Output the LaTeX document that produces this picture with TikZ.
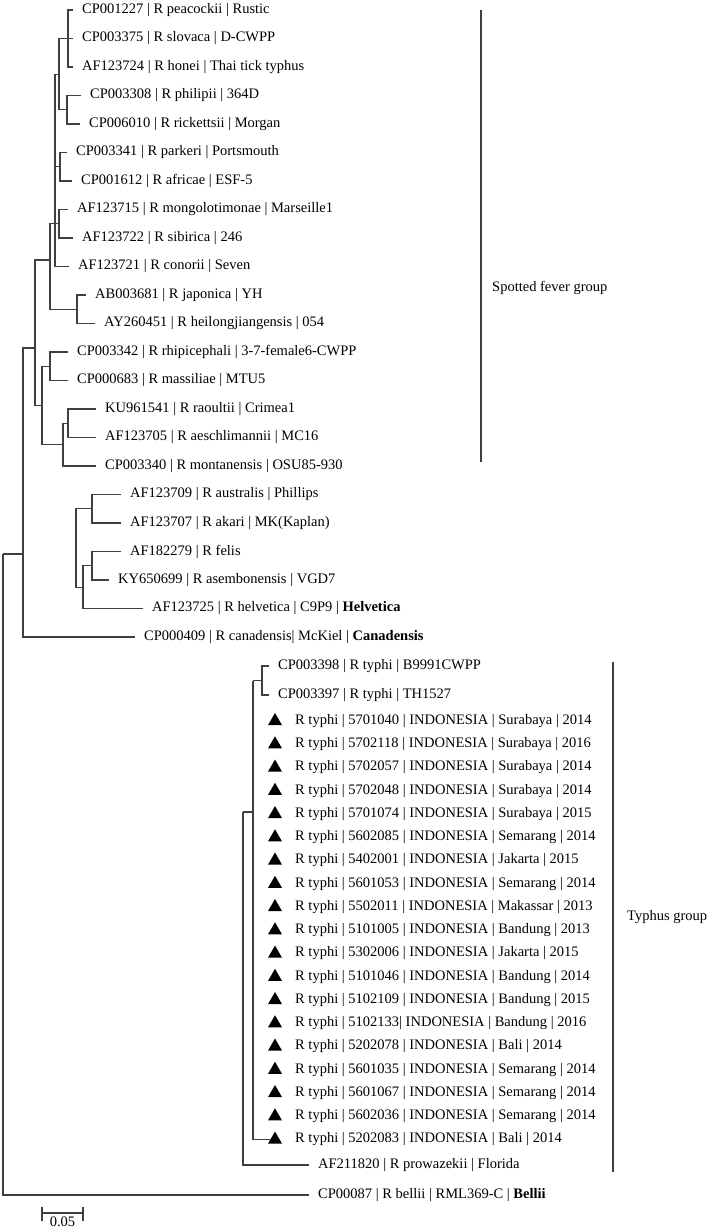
\documentclass[tikz,border=0pt]{standalone}
\usepackage{fontspec}
\setmainfont{Liberation Serif}
\usetikzlibrary{shapes.geometric}

\begin{document}
\begin{tikzpicture}[x=1pt, y=-1pt, font=\fontsize{14.5pt}{17pt}\selectfont,
  branch/.style={line width=1.1pt, draw=black!75},
  taxon/.style={anchor=west, inner xsep=9pt, inner ysep=1pt},
  isolate/.style={regular polygon, regular polygon sides=3, fill=black, inner sep=0pt, minimum size=16pt}]
\useasboundingbox (0,0) rectangle (709,1229);

% Spotted fever group leaves
\node[taxon] (peacockii) at (73,10) {CP001227 | R peacockii | Rustic};
\node[taxon] (slovaca) at (73,38.5) {CP003375 | R slovaca | D-CWPP};
\node[taxon] (honei) at (73,67) {AF123724 | R honei | Thai tick typhus};
\node[taxon] (philipii) at (81,95.5) {CP003308 | R philipii | 364D};
\node[taxon] (rickettsii) at (80,124) {CP006010 | R rickettsii | Morgan};
\node[taxon] (parkeri) at (67,152.5) {CP003341 | R parkeri | Portsmouth};
\node[taxon] (africae) at (72,181) {CP001612 | R africae | ESF-5};
\node[taxon] (mongolotimonae) at (68,209.5) {AF123715 | R mongolotimonae | Marseille1};
\node[taxon] (sibirica) at (73,238) {AF123722 | R sibirica | 246};
\node[taxon] (conorii) at (69,266.5) {AF123721 | R conorii | Seven};
\node[taxon] (japonica) at (86,295) {AB003681 | R japonica | YH};
\node[taxon] (heilongjiangensis) at (95,323.5) {AY260451 | R heilongjiangensis | 054};
\node[taxon] (rhipicephali) at (68,352) {CP003342 | R rhipicephali | 3-7-female6-CWPP};
\node[taxon] (massiliae) at (68,380.5) {CP000683 | R massiliae | MTU5};
\node[taxon] (raoultii) at (96,409) {KU961541 | R raoultii | Crimea1};
\node[taxon] (aeschlimannii) at (96,437.5) {AF123705 | R aeschlimannii | MC16};
\node[taxon] (montanensis) at (96,466) {CP003340 | R montanensis | OSU85-930};

% Other leaves
\node[taxon] (australis) at (121,494.5) {AF123709 | R australis | Phillips};
\node[taxon] (akari) at (121,523) {AF123707 | R akari | MK(Kaplan)};
\node[taxon] (felis) at (121,551.5) {AF182279 | R felis};
\node[taxon] (asembonensis) at (109,580) {KY650699 | R asembonensis | VGD7};
\node[taxon] (helvetica) at (143,608.5) {AF123725 | R helvetica | C9P9 | \textbf{Helvetica}};
\node[taxon] (canadensis) at (135,637) {CP000409 | R canadensis| McKiel | \textbf{Canadensis}};

% Typhus group leaves
\node[taxon] (typhiB) at (269,666) {CP003398 | R typhi | B9991CWPP};
\node[taxon] (typhiTH) at (269,695) {CP003397 | R typhi | TH1527};
\node[isolate] (m5701040) at (275,721) {};
\node[taxon] (s5701040) at (286,721) {R typhi | 5701040 | INDONESIA | Surabaya | 2014};
\node[isolate] (m5702118) at (275,744.25) {};
\node[taxon] (s5702118) at (286,744.25) {R typhi | 5702118 | INDONESIA | Surabaya | 2016};
\node[isolate] (m5702057) at (275,767.5) {};
\node[taxon] (s5702057) at (286,767.5) {R typhi | 5702057 | INDONESIA | Surabaya | 2014};
\node[isolate] (m5702048) at (275,790.75) {};
\node[taxon] (s5702048) at (286,790.75) {R typhi | 5702048 | INDONESIA | Surabaya | 2014};
\node[isolate] (m5701074) at (275,814) {};
\node[taxon] (s5701074) at (286,814) {R typhi | 5701074 | INDONESIA | Surabaya | 2015};
\node[isolate] (m5602085) at (275,837.25) {};
\node[taxon] (s5602085) at (286,837.25) {R typhi | 5602085 | INDONESIA | Semarang | 2014};
\node[isolate] (m5402001) at (275,860.5) {};
\node[taxon] (s5402001) at (286,860.5) {R typhi | 5402001 | INDONESIA | Jakarta | 2015};
\node[isolate] (m5601053) at (275,883.75) {};
\node[taxon] (s5601053) at (286,883.75) {R typhi | 5601053 | INDONESIA | Semarang | 2014};
\node[isolate] (m5502011) at (275,907) {};
\node[taxon] (s5502011) at (286,907) {R typhi | 5502011 | INDONESIA | Makassar | 2013};
\node[isolate] (m5101005) at (275,930.25) {};
\node[taxon] (s5101005) at (286,930.25) {R typhi | 5101005 | INDONESIA | Bandung | 2013};
\node[isolate] (m5302006) at (275,953.5) {};
\node[taxon] (s5302006) at (286,953.5) {R typhi | 5302006 | INDONESIA | Jakarta | 2015};
\node[isolate] (m5101046) at (275,976.75) {};
\node[taxon] (s5101046) at (286,976.75) {R typhi | 5101046 | INDONESIA | Bandung | 2014};
\node[isolate] (m5102109) at (275,1000) {};
\node[taxon] (s5102109) at (286,1000) {R typhi | 5102109 | INDONESIA | Bandung | 2015};
\node[isolate] (m5102133) at (275,1023.25) {};
\node[taxon] (s5102133) at (286,1023.25) {R typhi | 5102133| INDONESIA | Bandung | 2016};
\node[isolate] (m5202078) at (275,1046.5) {};
\node[taxon] (s5202078) at (286,1046.5) {R typhi | 5202078 | INDONESIA | Bali | 2014};
\node[isolate] (m5601035) at (275,1069.75) {};
\node[taxon] (s5601035) at (286,1069.75) {R typhi | 5601035 | INDONESIA | Semarang | 2014};
\node[isolate] (m5601067) at (275,1093) {};
\node[taxon] (s5601067) at (286,1093) {R typhi | 5601067 | INDONESIA | Semarang | 2014};
\node[isolate] (m5602036) at (275,1116.25) {};
\node[taxon] (s5602036) at (286,1116.25) {R typhi | 5602036 | INDONESIA | Semarang | 2014};
\node[isolate] (m5202083) at (275,1139.5) {};
\node[taxon] (s5202083) at (286,1139.5) {R typhi | 5202083 | INDONESIA | Bali | 2014};
\node[taxon] (prowazekii) at (309,1165) {AF211820 | R prowazekii | Florida};
\node[taxon] (bellii) at (309,1195) {CP00087 | R bellii | RML369-C | \textbf{Bellii}};

% Internal nodes
\coordinate (nA) at (68,38.5);
\coordinate (nB) at (67,109.75);
\coordinate (nAB) at (59,74.1);
\coordinate (nC) at (60,166.75);
\coordinate (nD) at (59,223.75);
\coordinate (nSub) at (55,223.75);
\coordinate (nJap) at (77,309.25);
\coordinate (nUpper) at (50,260);
\coordinate (nF) at (50,366.25);
\coordinate (nG) at (68,423.25);
\coordinate (nH) at (63,444.6);
\coordinate (nFH) at (42,405.4);
\coordinate (nSFG) at (35,348);
\coordinate (nI) at (92,508.75);
\coordinate (nJ) at (92,565.75);
\coordinate (nK) at (83,587.1);
\coordinate (nIK) at (76,547.9);
\coordinate (nCan) at (23,554);
\coordinate (root) at (3,554);
\coordinate (nL) at (262,680.5);
\coordinate (nTy) at (253,680.5);
\coordinate (nM) at (243,812);

% Branches
\draw[branch] (nA) |- (peacockii.west) (nA) -- (slovaca.west) (nA) |- (honei.west);
\draw[branch] (nB) |- (philipii.west) (nB) |- (rickettsii.west);
\draw[branch] (nAB) |- (nA) (nAB) |- (nB);
\draw[branch] (nC) |- (parkeri.west) (nC) |- (africae.west);
\draw[branch] (nD) |- (mongolotimonae.west) (nD) |- (sibirica.west);
\draw[branch] (nSub) |- (nAB) (nSub) |- (nC) (nSub) -- (nD) (nSub) |- (conorii.west);
\draw[branch] (nJap) |- (japonica.west) (nJap) |- (heilongjiangensis.west);
\draw[branch] (nUpper) |- (nSub) (nUpper) |- (nJap);
\draw[branch] (nF) |- (rhipicephali.west) (nF) |- (massiliae.west);
\draw[branch] (nG) |- (raoultii.west) (nG) |- (aeschlimannii.west);
\draw[branch] (nH) |- (nG) (nH) |- (montanensis.west);
\draw[branch] (nFH) |- (nF) (nFH) |- (nH);
\draw[branch] (nSFG) |- (nUpper) (nSFG) |- (nFH);
\draw[branch] (nI) |- (australis.west) (nI) |- (akari.west);
\draw[branch] (nJ) |- (felis.west) (nJ) |- (asembonensis.west);
\draw[branch] (nK) |- (nJ) (nK) |- (helvetica.west);
\draw[branch] (nIK) |- (nI) (nIK) |- (nK);
\draw[branch] (nCan) |- (nSFG) (nCan) |- (canadensis.west);
\draw[branch] (root) -- (nCan) (root) |- (bellii.west);
\draw[branch] (nL) |- (typhiB.west) (nL) |- (typhiTH.west);
\draw[branch] (nTy) -- (nL) (nTy) |- (m5202083.west);
\draw[branch] (nM) -- (nM -| nTy) (nM) |- (prowazekii.west);

% Group bars
\coordinate (sfgTop) at (481,10);
\coordinate (sfgBottom) at (481,462);
\draw[branch] (sfgTop) -- (sfgBottom);
\node[anchor=west, inner sep=0pt] (sfgLabel) at (492,288) {Spotted fever group};
\coordinate (tgTop) at (613,662);
\coordinate (tgBottom) at (613,1172);
\draw[branch] (tgTop) -- (tgBottom);
\node[anchor=west, inner sep=0pt] (tgLabel) at (627,917) {Typhus group};

% Scale bar
\coordinate (barLeft) at (42,1213);
\coordinate (barRight) at (83,1213);
\draw[branch] (barLeft) -- (barRight);
\draw[branch] ([yshift=6pt]barLeft) -- ([yshift=-8pt]barLeft);
\draw[branch] ([yshift=6pt]barRight) -- ([yshift=-8pt]barRight);
\node[inner sep=0pt] (barLabel) at (62.5,1222) {0.05};
\end{tikzpicture}
\end{document}
